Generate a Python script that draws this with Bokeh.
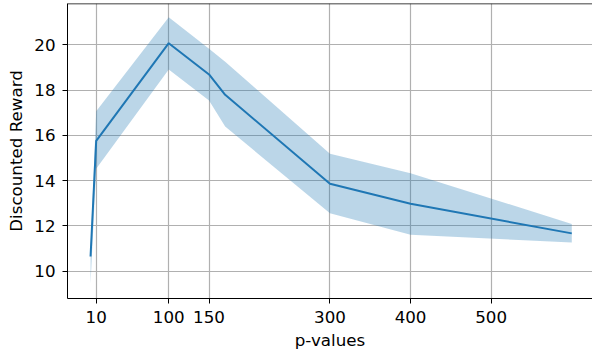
from bokeh.plotting import figure
from bokeh.models import Range1d, FixedTicker, Span
from bokeh.embed import file_html
from bokeh.resources import INLINE

# data
p_values = [3, 10, 100, 150, 170, 300, 400, 600]
reward_mean = [10.65, 15.76, 20.07, 18.69, 17.79, 13.86, 12.98, 11.67]
reward_upper = [11.0, 17.07, 21.22, 19.83, 19.25, 15.19, 14.33, 12.09]
reward_lower = [9.45, 14.52, 18.91, 17.54, 16.39, 12.56, 11.61, 11.27]
x_ticks = [10, 100, 150, 300, 400, 500]
y_ticks = [10, 12, 14, 16, 18, 20]

FONT = "DejaVu Sans"
BLUE = "#1f77b4"
Y_TOP = 21.824

p = figure(width=592, height=352, output_backend="svg", toolbar_location=None,
           x_range=Range1d(-25.6, 625.7), y_range=Range1d(8.794, Y_TOP),
           min_border_left=67, min_border_right=0, min_border_top=3,
           min_border_bottom=54)
p.outline_line_color = None
p.background_fill_color = "white"
p.border_fill_color = "white"

p.varea(x=p_values, y1=reward_lower, y2=reward_upper, fill_color=BLUE, fill_alpha=0.3)
p.line(x=p_values, y=reward_mean, line_color=BLUE, line_width=2)

top = Span(location=Y_TOP, dimension="width", line_color="black", line_width=1.5)
p.add_layout(top)

for ax in (p.xaxis[0], p.yaxis[0]):
    ax.axis_line_color = "black"
    ax.axis_line_width = 1
    ax.major_tick_line_color = "black"
    ax.major_tick_out = 5
    ax.major_tick_in = 0
    ax.minor_tick_line_color = None
    ax.major_label_text_font = FONT
    ax.major_label_text_font_size = "16.7px"
    ax.major_label_text_color = "black"
    ax.axis_label_text_font = FONT
    ax.axis_label_text_font_size = "16.7px"
    ax.axis_label_text_font_style = "normal"
    ax.axis_label_text_color = "black"

p.xaxis[0].ticker = FixedTicker(ticks=x_ticks)
p.yaxis[0].ticker = FixedTicker(ticks=y_ticks)
p.xaxis[0].axis_label = "p-values"
p.yaxis[0].axis_label = "Discounted Reward"
p.xaxis[0].major_label_standoff = 7
p.yaxis[0].major_label_standoff = 7
p.xaxis[0].axis_label_standoff = 4
p.yaxis[0].axis_label_standoff = 5

p.xgrid.ticker = FixedTicker(ticks=x_ticks)
p.ygrid.ticker = FixedTicker(ticks=y_ticks)
for g in (p.xgrid[0], p.ygrid[0]):
    g.grid_line_color = "#b0b0b0"
    g.grid_line_width = 1.2
    g.grid_line_alpha = 1.0

open("out.html", "w").write(file_html(p, INLINE))
